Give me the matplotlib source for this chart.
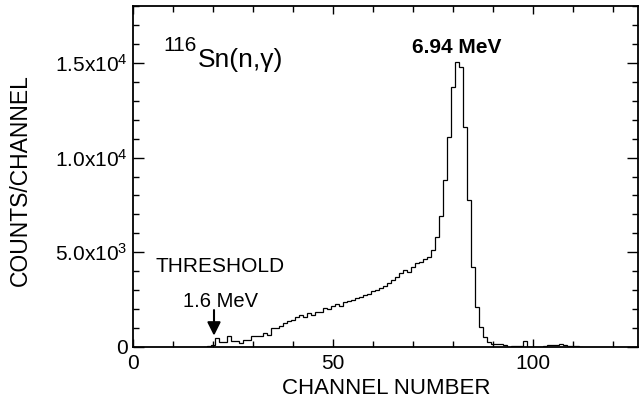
import numpy as np
import matplotlib
matplotlib.use("Agg")
import matplotlib.pyplot as plt
from matplotlib.ticker import MultipleLocator

plt.rcParams['font.family'] = ['Liberation Sans', 'DejaVu Sans']
plt.rcParams['mathtext.fontset'] = 'custom'
plt.rcParams['mathtext.rm'] = 'Liberation Sans'
plt.rcParams['mathtext.it'] = 'Liberation Sans'
plt.rcParams['mathtext.bf'] = 'Liberation Sans:bold'

# spectrum (counts per channel)
channels = np.arange(18, 113)
counts = [
    0, 50, 120, 460, 280, 280, 580, 310, 310, 230,          # 18-27
    370, 380, 580, 580, 560, 750, 650, 980, 980, 1100,      # 28-37
    1260, 1380, 1400, 1560, 1680, 1590, 1790, 1700, 1860, 1860,  # 38-47
    2050, 1980, 2160, 2260, 2160, 2380, 2450, 2500, 2580, 2620,  # 48-57
    2740, 2800, 2980, 3000, 3100, 3210, 3380, 3520, 3700, 3890,  # 58-67
    4050, 3960, 4220, 4420, 4490, 4630, 4750, 5100, 5800, 6900,  # 68-77
    8800, 11100, 13700, 15050, 14800, 11600, 7750, 4200, 2100, 1050,  # 78-87
    520, 260, 180, 180, 180, 100, 0, 60, 60, 40,            # 88-97
    300, 0, 0, 0, 0, 60, 80, 100, 100, 170,                 # 98-107
    80, 60, 60, 40, 0,                                      # 108-112
]

y_ticks = [0, 5000, 10000, 15000]
y_labels = ['0', '5.0x10$^{3}$', '1.0x10$^{4}$', '1.5x10$^{4}$']
x_ticks = [0, 50, 100]

fig = plt.figure(figsize=(6.39, 4.05), dpi=100)
ax = fig.add_axes([133/639, 58/405, 505/639, 341/405])

edges = np.append(channels - 0.5, channels[-1] + 0.5)
ax.stairs(counts, edges, color='black', linewidth=0.9)

ax.set_xlim(0, 126.25)
ax.set_ylim(0, 18000)

ax.set_xticks(x_ticks)
ax.xaxis.set_minor_locator(MultipleLocator(10))
ax.set_yticks(y_ticks)
ax.set_yticklabels(y_labels)
ax.yaxis.set_minor_locator(MultipleLocator(1000))

ax.tick_params(which='both', direction='in', top=True, right=True,
               labelsize=15, width=1)
ax.tick_params(axis='y', which='major', length=8, pad=4)
ax.tick_params(axis='y', which='minor', length=4)
ax.tick_params(axis='x', which='major', length=6, pad=5)
ax.tick_params(axis='x', which='minor', length=4)
for s in ax.spines.values():
    s.set_linewidth(1.3)

fig.text(20/639, 1 - 180/405, 'COUNTS/CHANNEL', rotation=90,
         ha='center', va='center', fontsize=16.5)
fig.text(386/639, 1 - 388/405, 'CHANNEL NUMBER',
         ha='center', va='center', fontsize=16)

# isotope label: superscript mass number drawn a bit larger than mathtext default
ax.text(7.5, 15600, '116', fontsize=15, va='baseline', ha='left')
ax.text(16.3, 14800, 'Sn(n,γ)', fontsize=19, va='baseline', ha='left')
ax.text(80.9, 15530, '6.94 MeV', fontsize=15, fontweight='bold',
        va='baseline', ha='center')
ax.text(5.5, 3950, 'THRESHOLD', fontsize=15, va='baseline', ha='left')
ax.text(21.9, 2100, '1.6 MeV', fontsize=14.5, va='baseline', ha='center')
ax.annotate('', xy=(20.25, 600), xytext=(20.25, 1950),
            arrowprops=dict(arrowstyle='-|>,head_width=0.4,head_length=0.8',
                            color='black', lw=1.5, shrinkA=0, shrinkB=0))

fig.savefig('out.png', dpi=100)
